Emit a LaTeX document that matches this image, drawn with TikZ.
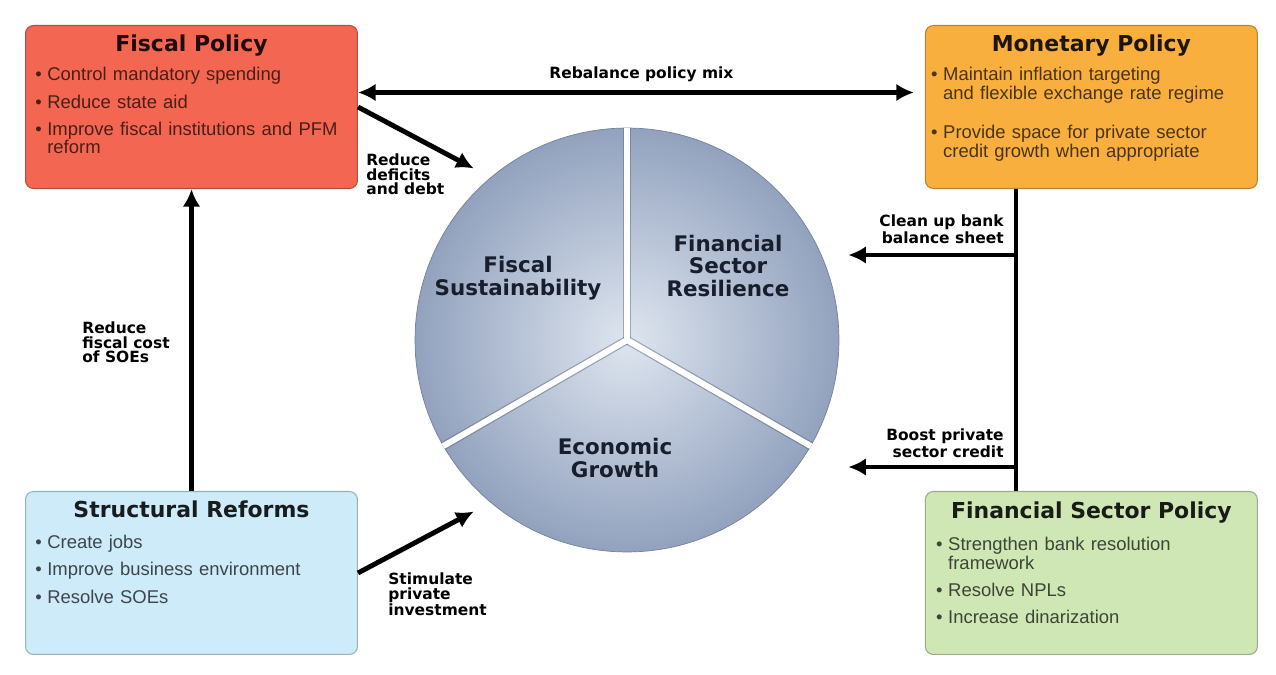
\documentclass[tikz,border=0pt]{standalone}
\usepackage{fontspec}
\setmainfont{Liberation Sans}
\newfontfamily\heavyfont{DejaVu Sans}
\usetikzlibrary{arrows.meta,positioning}

\definecolor{fiscalred}{RGB}{243,102,82}
\definecolor{monetaryorange}{RGB}{248,175,62}
\definecolor{reformblue}{RGB}{205,235,248}
\definecolor{financegreen}{RGB}{207,231,180}
\definecolor{coreinner}{RGB}{222,229,239}
\definecolor{coreouter}{RGB}{146,162,190}
\definecolor{coretext}{RGB}{24,30,44}

\newlength\itmsep
\setlength\itmsep{5pt}
\newcommand{\itm}[1]{\par\noindent\hangindent=0.65em\hangafter=1\makebox[0.65em][l]{\textbullet}#1\par\vspace{\itmsep}}

\begin{document}
\begin{tikzpicture}[
  x=0.02cm, y=-0.02cm,
  box/.style={draw=#1!75!black, fill=#1, line width=0.6pt, rounded corners=0.16cm, minimum width=6.64cm, minimum height=3.26cm, inner sep=0pt},
  boxtitle/.style={font=\heavyfont\bfseries\fontsize{12.5}{14}\selectfont, text=#1!12!black, inner sep=0pt},
  boxbody/.style={font=\fontsize{10.5}{10.5}\selectfont, text=#1!30!black, text width=6.4cm, align=left, inner sep=0pt, anchor=north west},
  lbl/.style={font=\heavyfont\bfseries\fontsize{8.8}{8.5}\selectfont, inner sep=0pt},
  sector/.style={font=\heavyfont\bfseries\fontsize{12.2}{12.8}\selectfont, text=coretext, align=center, inner sep=0pt},
  arrow/.style={-{Latex[length=10pt,width=10pt]}, line width=2.8pt},
  twoway/.style={{Latex[length=10pt,width=10pt]}-{Latex[length=10pt,width=10pt]}, line width=2.8pt},
  spine/.style={line width=2.8pt}
]
\useasboundingbox[fill=white] (0,0) rectangle (1276,675);

% policy boxes
\node[box=fiscalred, anchor=north west] (fp) at (25,25) {};
\node[box=monetaryorange, right=11.34cm of fp] (mp) {};
\node[box=reformblue, below=6.04cm of fp] (sr) {};
\node[box=financegreen, below=6.04cm of mp] (fsp) {};

\node[boxtitle=fiscalred, below=0.18cm of fp.north] (fp-title) {Fiscal Policy};
\node[boxtitle=monetaryorange, below=0.18cm of mp.north] (mp-title) {Monetary Policy};
\node[boxtitle=reformblue, below=0.2cm of sr.north] (sr-title) {Structural Reforms};
\node[boxtitle=financegreen, below=0.22cm of fsp.north] (fsp-title) {Financial Sector Policy};

\node[boxbody=fiscalred] (fp-body) at ([shift={(10,37)}]fp.north west) {%
  \itm{Control mandatory spending}
  \itm{Reduce state aid}
  \itm{Improve fiscal institutions and PFM\newline reform}};
\node[boxbody=monetaryorange] (mp-body) at ([shift={(6,37)}]mp.north west) {%
  \setlength\itmsep{12pt}%
  \itm{Maintain inflation targeting\newline and flexible exchange rate regime}
  \itm{Provide space for private sector\newline credit growth when appropriate}};
\node[boxbody=reformblue] (sr-body) at ([shift={(10,39)}]sr.north west) {%
  \itm{Create jobs}
  \itm{Improve business environment}
  \itm{Resolve SOEs}};
\node[boxbody=financegreen] (fsp-body) at ([shift={(11,41)}]fsp.north west) {%
  \itm{Strengthen bank resolution\newline framework}
  \itm{Resolve NPLs}
  \itm{Increase dinarization}};

% central pie
\node[circle, draw=coreouter!80!black, line width=0.4pt, inner color=coreinner, outer color=coreouter, minimum size=8.48cm, inner sep=0pt] (core) at (627,340) {};
\foreach \ang in {90,210,330}
  \draw[line width=0.17cm, coreouter!60!black, opacity=0.45] (core.center) -- (core.\ang);
\foreach \ang in {90,210,330}
  \draw[line width=0.12cm, white] (core.center) -- (core.\ang);

\node[sector] (fs) at ([shift={(-109,-62)}]core.center) {Fiscal\\Sustainability};
\node[sector] (fr) at ([shift={(101,-74)}]core.center) {Financial\\Sector\\Resilience};
\node[sector] (eg) at ([shift={(-12,118)}]core.center) {Economic\\Growth};

% connectors
\draw[twoway, shorten >=0.22cm] ([yshift=0.29cm]fp.east) -- ([yshift=0.29cm]mp.west)
  node[lbl, midway, above=0.16cm] (rebalance) {Rebalance policy mix};

\draw[arrow, shorten >=0.38cm] (fp.east) -- (core.130);
\node[lbl, align=left, anchor=north west] (debt) at ([shift={(8,46)}]fp.east) {Reduce\\deficits\\and debt};

\draw[arrow] (sr.north) -- (fp.south);
\node[lbl, align=left, anchor=north west] (soe) at (82,321) {Reduce\\fiscal cost\\of SOEs};

\draw[arrow, shorten >=0.38cm] (sr.east) -- (core.230);
\node[lbl, align=left, anchor=north west] (invest) at ([shift={(30,-1)}]sr.east) {Stimulate\\private\\investment};

\coordinate (cleanup) at (1016,255);
\coordinate (boost) at (1016,467);
\draw[spine] (cleanup |- mp.south) -- (cleanup |- fsp.north);
\draw[arrow, shorten >=0.18cm] (cleanup) -- (cleanup -| core.east);
\node[lbl, align=right, anchor=south east] (cleanup-lbl) at ([shift={(-12,-11)}]cleanup) {Clean up bank\\balance sheet};
\draw[arrow, shorten >=0.18cm] (boost) -- (boost -| core.east);
\node[lbl, align=right, anchor=south east] (boost-lbl) at ([shift={(-12,-9)}]boost) {Boost private\\sector credit};
\end{tikzpicture}
\end{document}
